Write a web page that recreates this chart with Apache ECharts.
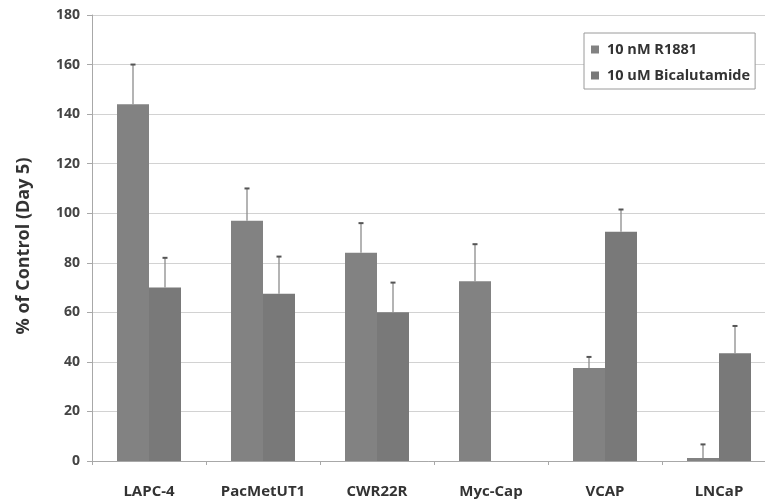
<!DOCTYPE html>
<html>
<head>
<meta charset="utf-8">
<script src="https://cdn.jsdelivr.net/npm/echarts@6/dist/echarts.min.js"></script>
<style>
  html, body { margin: 0; padding: 0; background: #fff; }
  #chart { width: 765px; height: 500px; }
</style>
</head>
<body>
<div id="chart"></div>
<script>
// values
const cellLines = ['LAPC-4', 'PacMetUT1', 'CWR22R', 'Myc-Cap', 'VCAP', 'LNCaP'];
const r1881 = [144, 97, 84, 72.5, 37.5, 1.2];
const r1881Err = [16, 13, 12, 15, 4.5, 5.5];
const bical = [70, 67.5, 60, null, 92.5, 43.5];
const bicalErr = [12, 15, 12, null, 9, 11];
const yTicks = { min: 0, max: 180, step: 20 };

const FONT = '"Open Sans", Lato, sans-serif';
const BAR_W = 32;

function errorSeries(vals, errs, offset) {
    const data = vals.map((v, i) => [i, v, errs[i]]);
    return {
        type: 'custom',
        silent: true,
        z: 5,
        renderItem: (params, api) => {
            const v = api.value(1);
            const e = api.value(2);
            if (isNaN(v) || isNaN(e)) return null;
            const base = api.coord([api.value(0), v]);
            const top = api.coord([api.value(0), v + e]);
            const x = base[0] + offset;
            return {
                type: 'group',
                children: [
                    { type: 'line', shape: { x1: x, y1: base[1], x2: x, y2: top[1] },
                      style: { stroke: '#8c8c8c', lineWidth: 1.3 } },
                    { type: 'line', shape: { x1: x - 2.5, y1: top[1], x2: x + 2.5, y2: top[1] },
                      style: { stroke: '#555', lineWidth: 2 } }
                ]
            };
        },
        data: data
    };
}

const myChart = echarts.init(document.getElementById('chart'));
const option = {
    backgroundColor: '#fff',
    animation: false,
    // plot runs past the right edge of the picture, like the cropped original
    grid: { left: 92, width: 684, top: 15, bottom: 39, outerBoundsMode: 'none', containLabel: false },
    legend: {
        data: ['10 nM R1881', '10 uM Bicalutamide'],
        orient: 'vertical',
        left: 584, top: 33,
        backgroundColor: '#fff',
        borderColor: '#9a9a9a', borderWidth: 1, borderRadius: 0,
        padding: [9, 5, 6, 7],
        itemWidth: 8, itemHeight: 8, itemGap: 11,
        icon: 'rect',
        textStyle: { fontFamily: FONT, fontSize: 14.5, fontWeight: 'bold', color: '#333', padding: [0, 0, 0, 3] }
    },
    xAxis: {
        type: 'category',
        data: cellLines,
        axisLine: { lineStyle: { color: '#a8a8a8', width: 1 } },
        axisTick: { show: true, length: 4, lineStyle: { color: '#a8a8a8' } },
        axisLabel: { margin: 23, fontFamily: FONT, fontSize: 15, fontWeight: 'bold', color: '#333' }
    },
    yAxis: {
        type: 'value',
        min: yTicks.min, max: yTicks.max, interval: yTicks.step,
        name: '% of Control (Day 5)',
        nameLocation: 'middle',
        nameGap: 59,
        nameTextStyle: { fontFamily: FONT, fontSize: 18, fontWeight: 'bold', color: '#333', padding: [0, 16, 0, 0] },
        axisLine: { show: true, lineStyle: { color: '#a8a8a8', width: 1 } },
        axisTick: { show: true, length: 5, lineStyle: { color: '#a8a8a8' } },
        axisLabel: { margin: 12, fontFamily: FONT, fontSize: 14, fontWeight: 'bold', color: '#444' },
        splitLine: { lineStyle: { color: '#d2d2d2', width: 1 } }
    },
    series: [
        {
            name: '10 nM R1881', type: 'bar', data: r1881,
            barWidth: BAR_W, barGap: '0%',
            itemStyle: { color: '#828282' }
        },
        {
            name: '10 uM Bicalutamide', type: 'bar', data: bical,
            barWidth: BAR_W, barGap: '0%',
            itemStyle: { color: '#797979' }
        },
        errorSeries(r1881, r1881Err, -BAR_W / 2),
        errorSeries(bical, bicalErr, BAR_W / 2)
    ]
};
myChart.setOption(option);
</script>
</body>
</html>
